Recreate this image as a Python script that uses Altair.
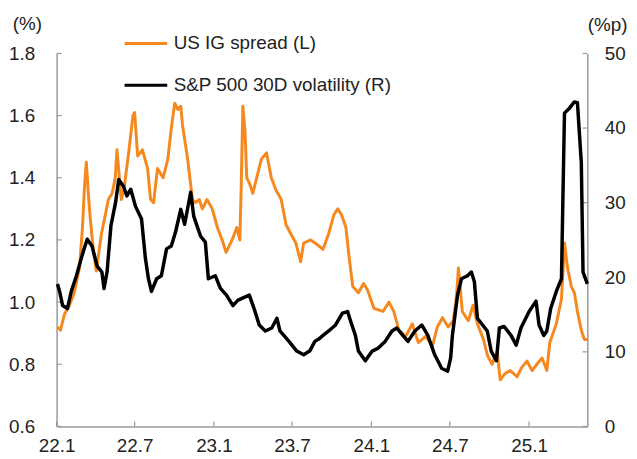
import altair as alt
import pandas as pd

# ---------------- data ----------------
ig_dates = [
    "2022-01-03", "2022-01-10", "2022-01-19", "2022-01-31", "2022-02-11", "2022-02-23",
    "2022-03-02", "2022-03-07", "2022-03-11", "2022-03-15", "2022-03-20", "2022-03-27",
    "2022-04-03", "2022-04-15", "2022-04-24", "2022-05-01", "2022-05-10", "2022-05-17",
    "2022-05-21", "2022-05-26", "2022-05-31", "2022-06-06", "2022-06-18", "2022-06-27",
    "2022-07-01", "2022-07-08", "2022-07-19", "2022-07-31", "2022-08-07", "2022-08-14",
    "2022-08-23", "2022-09-05", "2022-09-16", "2022-09-25", "2022-10-02", "2022-10-09",
    "2022-10-16", "2022-10-20", "2022-11-01", "2022-11-12", "2022-11-19", "2022-11-28",
    "2022-12-05", "2022-12-16", "2022-12-28",
    "2023-01-09", "2023-01-20", "2023-01-29", "2023-02-12", "2023-02-23", "2023-03-02",
    "2023-03-05", "2023-03-09", "2023-03-14", "2023-03-18", "2023-03-25", "2023-04-01",
    "2023-04-10", "2023-04-21", "2023-05-03", "2023-05-14", "2023-05-25", "2023-06-06",
    "2023-06-17", "2023-06-28", "2023-07-10", "2023-07-21", "2023-07-28", "2023-08-13",
    "2023-08-24", "2023-09-11", "2023-09-24", "2023-10-06", "2023-10-15", "2023-10-24",
    "2023-11-03", "2023-11-10", "2023-11-19", "2023-12-02", "2023-12-14", "2023-12-23",
    "2024-01-07", "2024-01-28", "2024-02-11", "2024-02-22", "2024-03-05", "2024-03-21",
    "2024-04-05", "2024-04-19", "2024-05-06", "2024-05-22", "2024-06-02", "2024-06-14",
    "2024-06-27", "2024-07-09", "2024-07-16", "2024-07-21", "2024-07-30", "2024-08-13",
    "2024-08-24", "2024-09-03", "2024-09-17", "2024-09-26", "2024-10-07", "2024-10-19",
    "2024-10-26", "2024-11-06", "2024-11-18", "2024-12-04", "2024-12-15", "2024-12-27",
    "2025-01-08", "2025-01-19", "2025-01-31", "2025-02-11", "2025-02-18", "2025-03-05",
    "2025-03-17", "2025-03-24", "2025-03-31", "2025-04-09", "2025-04-16", "2025-04-23",
    "2025-05-02", "2025-05-09", "2025-05-16",
]
ig_values = [
    0.92, 0.91, 0.96, 0.99, 1.03, 1.11,
    1.24, 1.38, 1.45, 1.36, 1.27, 1.17,
    1.10, 1.22, 1.28, 1.33, 1.35, 1.40,
    1.49, 1.41, 1.33, 1.36, 1.49, 1.60,
    1.61, 1.47, 1.49, 1.43, 1.33, 1.32,
    1.43, 1.40, 1.46, 1.57, 1.64, 1.62,
    1.63, 1.57, 1.46, 1.33, 1.32, 1.33,
    1.30, 1.33, 1.30,
    1.24, 1.20, 1.16, 1.20, 1.24, 1.20,
    1.36, 1.63, 1.55, 1.40, 1.38, 1.35,
    1.40, 1.46, 1.48, 1.40, 1.36, 1.33,
    1.25, 1.22, 1.19, 1.13, 1.19, 1.20,
    1.19, 1.17, 1.22, 1.28, 1.30, 1.28,
    1.24, 1.15, 1.05, 1.03, 1.06, 1.04,
    0.98, 0.97, 1.00, 0.97, 0.91, 0.89,
    0.93, 0.87, 0.89, 0.86, 0.92, 0.95,
    0.92, 0.94, 1.01, 1.11, 0.97, 0.94,
    0.99, 0.93, 0.88, 0.83, 0.80, 0.84,
    0.75, 0.77, 0.78, 0.76, 0.79, 0.81,
    0.78, 0.80, 0.82, 0.78, 0.87, 0.93,
    1.01, 1.19, 1.11, 1.05, 1.03, 0.97,
    0.91, 0.88, 0.88,
]

vol_dates = [
    "2022-01-03", "2022-01-08", "2022-01-15", "2022-01-26", "2022-02-04", "2022-02-16",
    "2022-03-01", "2022-03-13", "2022-03-24", "2022-04-05", "2022-04-16", "2022-04-21",
    "2022-04-28", "2022-05-07", "2022-05-18", "2022-05-25", "2022-06-05", "2022-06-13",
    "2022-06-22", "2022-07-03", "2022-07-17", "2022-07-26", "2022-08-02", "2022-08-09",
    "2022-08-21", "2022-09-01", "2022-09-13", "2022-09-24", "2022-10-04", "2022-10-16",
    "2022-10-25", "2022-11-08", "2022-11-15", "2022-12-01", "2022-12-12", "2022-12-19",
    "2023-01-04", "2023-01-16", "2023-01-30", "2023-02-14", "2023-02-25", "2023-03-08",
    "2023-03-24", "2023-04-04", "2023-04-16", "2023-04-30", "2023-05-15", "2023-05-27",
    "2023-06-03", "2023-06-24", "2023-07-12", "2023-07-28", "2023-08-11", "2023-08-23",
    "2023-09-03", "2023-09-11", "2023-09-24", "2023-10-10", "2023-10-26", "2023-11-07",
    "2023-11-14", "2023-11-25", "2023-12-02", "2023-12-18",
    "2024-01-03", "2024-01-17", "2024-02-02", "2024-02-18", "2024-02-29", "2024-03-14",
    "2024-03-26", "2024-04-11", "2024-04-27", "2024-05-11", "2024-05-27", "2024-06-12",
    "2024-06-26", "2024-07-03", "2024-07-07", "2024-07-19", "2024-07-28", "2024-08-11",
    "2024-08-20", "2024-08-27", "2024-09-03", "2024-09-15", "2024-09-26", "2024-10-05",
    "2024-10-17", "2024-10-24", "2024-11-04", "2024-11-20", "2024-12-02", "2024-12-13",
    "2025-01-01", "2025-01-17", "2025-01-24", "2025-02-04", "2025-02-11", "2025-02-20",
    "2025-03-05", "2025-03-17", "2025-03-20", "2025-03-24", "2025-04-05", "2025-04-16",
    "2025-04-23", "2025-05-02", "2025-05-06", "2025-05-16",
]
vol_values = [
    19.1, 18.1, 16.2, 15.8, 18.1, 20.2,
    22.9, 25.1, 24.2, 21.5, 20.7, 18.5,
    20.7, 26.9, 30.1, 33.1, 32.2, 30.9,
    31.8, 29.5, 27.8, 22.5, 19.8, 18.1,
    19.8, 20.2, 23.8, 24.2, 26.1, 29.1,
    27.1, 31.4, 28.2, 25.5, 24.7, 19.8,
    20.2, 18.5, 17.6, 16.2, 16.9, 17.2,
    17.6, 15.8, 13.6, 12.8, 13.2, 14.5,
    12.8, 11.4, 10.1, 9.6, 10.1, 11.4,
    11.8, 12.2, 12.8, 13.6, 15.2, 15.4,
    14.1, 12.2, 10.1, 8.8,
    10.1, 10.5, 11.4, 12.8, 13.2, 12.2,
    11.4, 12.8, 13.6, 12.2, 9.6, 7.8,
    7.4, 9.2, 12.2, 17.6, 19.8, 20.2,
    20.7, 19.4, 14.5, 13.6, 12.8, 10.1,
    8.8, 13.2, 13.4, 12.2, 10.9, 13.2,
    15.4, 16.8, 13.6, 12.2, 12.8, 15.8,
    18.1, 19.8, 29.5, 42.0, 42.7, 43.5,
    43.4, 35.4, 20.7, 19.1,
]

series_names = ["US IG spread (L)", "S&P 500 30D volatility (R)"]
series_colors = ["#F5891F", "#000000"]
x_tick_dates = [(2022, 1), (2022, 7), (2023, 1), (2023, 7), (2024, 1), (2024, 7), (2025, 1)]
left_ticks = [0.6, 0.8, 1.0, 1.2, 1.4, 1.6, 1.8]
right_ticks = [0, 10, 20, 30, 40, 50]

# ---------------- chart ----------------
FONT = "Liberation Sans"
TEXT = "#222222"
AXIS_GRAY = "#9a9a9a"
W, H = 535, 376

ig_df = pd.DataFrame({"date": ig_dates, "value": ig_values, "series": series_names[0]})
vol_df = pd.DataFrame({"date": vol_dates, "value": vol_values, "series": series_names[1]})
xt_df = pd.DataFrame({"date": [f"{y}-{m:02d}-01" for y, m in x_tick_dates]})
lt_df = pd.DataFrame({"value": left_ticks})
rt_df = pd.DataFrame({"value": right_ticks})

x_scale = alt.Scale(type="utc",
                    domain=[alt.DateTime(year=2022, month=1, date=1, utc=True),
                            alt.DateTime(year=2025, month=5, date=16, utc=True)])
left_scale = alt.Scale(domain=[0.6, 1.8], nice=False, zero=False)
right_scale = alt.Scale(domain=[0, 50], nice=False)

color_scale = alt.Scale(domain=series_names, range=series_colors)
legend = alt.Legend(
    title=None, orient="none", legendX=67, legendY=-20, direction="vertical",
    symbolType="stroke", symbolSize=1849, symbolStrokeWidth=3,
    labelFont=FONT, labelFontSize=19, labelColor=TEXT, labelOffset=5, labelLimit=500,
    clipHeight=20, rowPadding=22, padding=0,
)

x_axis = alt.Axis(
    values=[alt.DateTime(year=y, month=m, date=1, utc=True) for y, m in x_tick_dates],
    labelExpr="utcFormat(datum.value, '%y.%-m')",
    title=None, ticks=False, grid=False, labelPadding=10,
    labelFont=FONT, labelFontSize=19, labelColor=TEXT,
    domainColor=AXIS_GRAY, domainWidth=1.5, labelFlush=False,
)
left_axis = alt.Axis(
    orient="left", values=left_ticks, format=".1f", ticks=False, grid=False,
    labelPadding=22, labelFont=FONT, labelFontSize=19, labelColor=TEXT,
    domainColor=AXIS_GRAY, domainWidth=1.5,
    title="(%)", titleAngle=0, titleX=-30, titleY=-30, titleAlign="center",
    titleBaseline="middle", titleFont=FONT, titleFontSize=19,
    titleFontWeight="normal", titleColor=TEXT)
right_axis = alt.Axis(
    orient="right", values=right_ticks, ticks=False, grid=False,
    labelPadding=17, labelFont=FONT, labelFontSize=19, labelColor=TEXT,
    domainColor=AXIS_GRAY, domainWidth=1.5,
    title="(%p)", titleAngle=0, titleX=20, titleY=-29, titleAlign="center",
    titleBaseline="middle", titleFont=FONT, titleFontSize=19,
    titleFontWeight="normal", titleColor=TEXT)

ig_line = alt.Chart(ig_df).mark_line(strokeWidth=3, strokeJoin="round").encode(
    x=alt.X("date:T", scale=x_scale, axis=x_axis),
    y=alt.Y("value:Q", scale=left_scale, axis=left_axis),
    color=alt.Color("series:N", scale=color_scale, legend=legend),
)
left_tick_marks = alt.Chart(lt_df).mark_rule(color=AXIS_GRAY, strokeWidth=1.2).encode(
    y=alt.Y("value:Q", scale=left_scale, axis=left_axis),
    x=alt.value(0), x2=alt.value(5),
)
bottom_tick_marks = alt.Chart(xt_df).mark_rule(color=AXIS_GRAY, strokeWidth=1.2).encode(
    x=alt.X("date:T", scale=x_scale, axis=x_axis),
    y=alt.value(H - 5), y2=alt.value(H),
)

vol_line = alt.Chart(vol_df).mark_line(strokeWidth=3.5, strokeJoin="round").encode(
    x=alt.X("date:T", scale=x_scale, axis=x_axis),
    y=alt.Y("value:Q", scale=right_scale, axis=right_axis),
    color=alt.Color("series:N", scale=color_scale, legend=legend),
)
right_tick_marks = alt.Chart(rt_df).mark_rule(color=AXIS_GRAY, strokeWidth=1.2).encode(
    y=alt.Y("value:Q", scale=right_scale, axis=right_axis),
    x=alt.value(W - 5), x2=alt.value(W),
)

left_layer = alt.layer(left_tick_marks, bottom_tick_marks, ig_line)
right_layer = alt.layer(right_tick_marks, vol_line)

chart = (
    alt.layer(left_layer, right_layer)
    .resolve_scale(y="independent")
    .properties(
        width=W, height=H,
        padding={"left": 49, "top": 44, "right": 42, "bottom": 30},
        autosize=alt.AutoSizeParams(type="none"),
        background="white",
    )
    .configure_view(stroke=None)
)

chart.save("out.html", embed_options={"renderer": "svg", "actions": False})
